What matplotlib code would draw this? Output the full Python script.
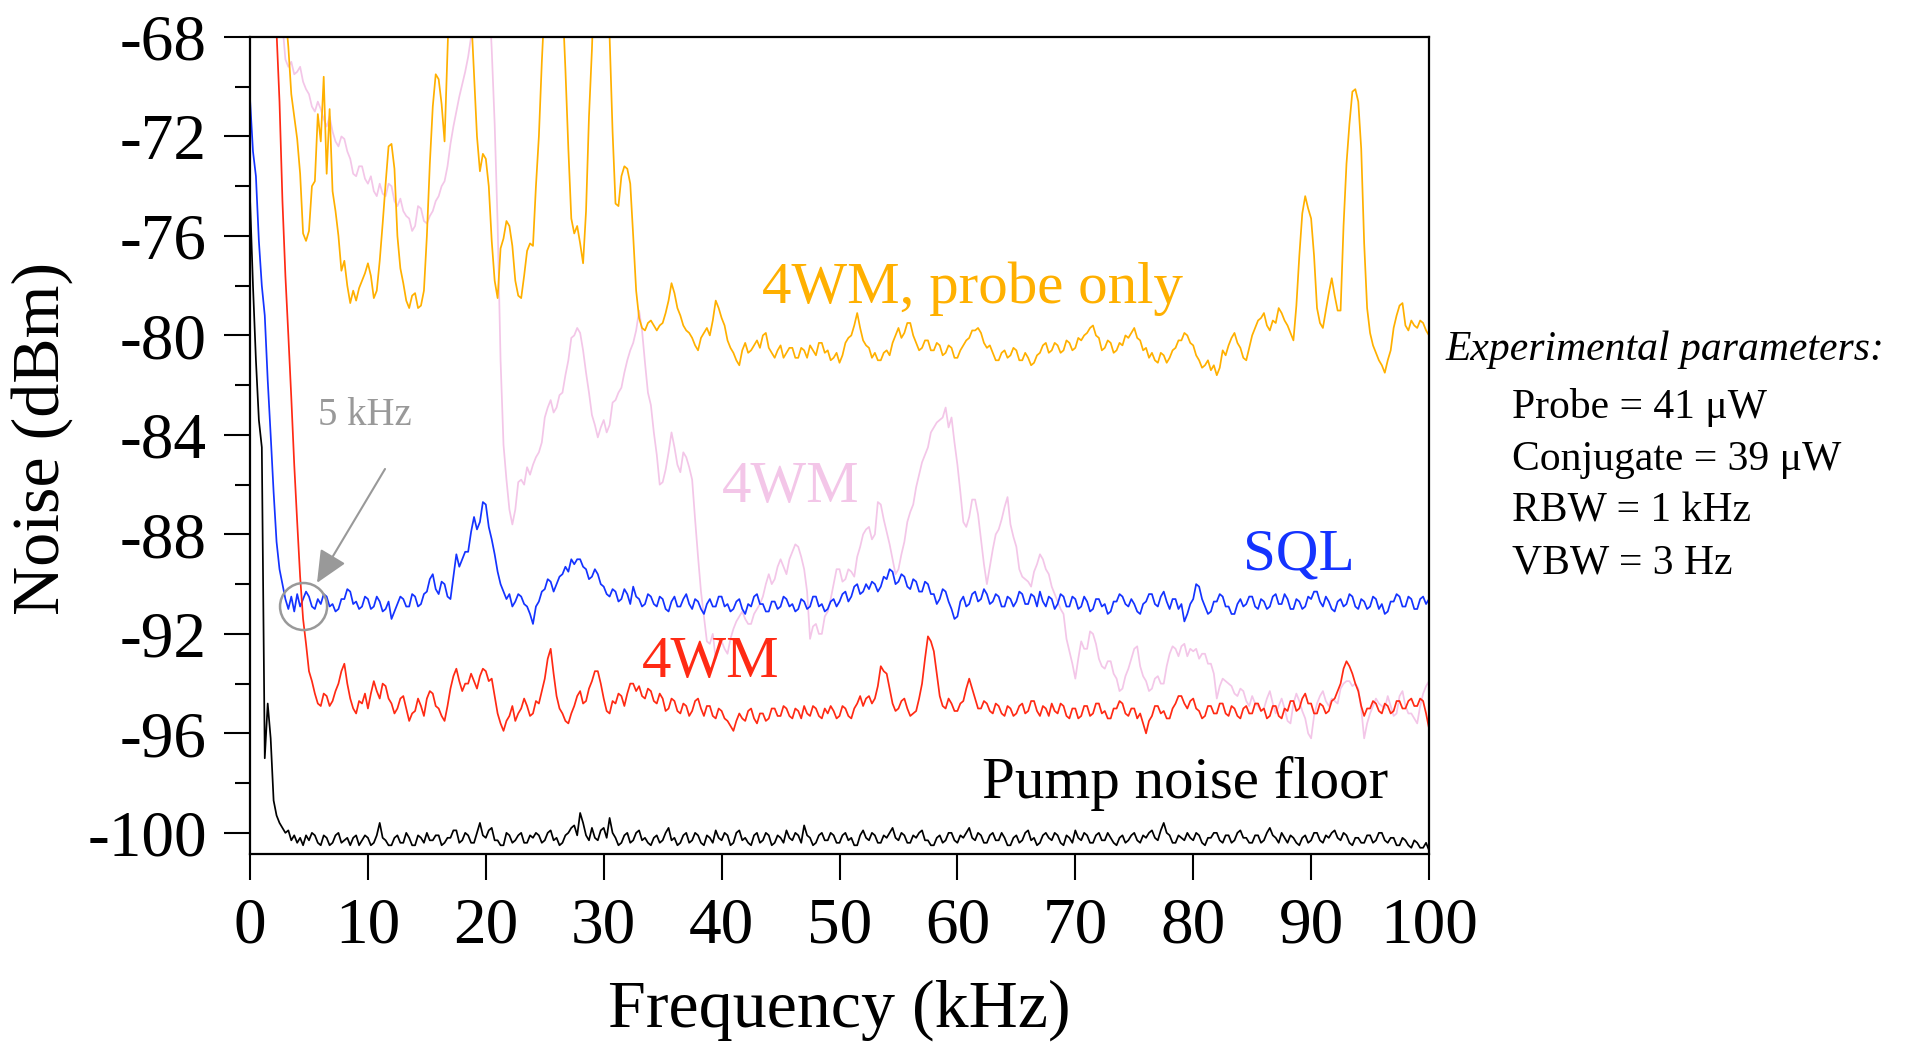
import numpy as np
import matplotlib
matplotlib.use("Agg")
import matplotlib.pyplot as plt
from matplotlib.patches import Ellipse
from matplotlib.ticker import MultipleLocator

plt.rcParams['font.family'] = ['Liberation Serif', 'DejaVu Serif']
plt.rcParams['axes.unicode_minus'] = False

# Frequency grid in kHz (0.25 kHz steps)
f_head = np.arange(0, 5, 0.25)
f_body = np.arange(5, 100.001, 0.25)
freq = np.concatenate([f_head, f_body])

# Noise spectra in dBm (values above -68 lie off the top of the plot)
pump_head = [-74.5, -78.0, -81.0, -83.4, -84.5, -97.0, -94.8, -96.2, -98.7, -99.3,
             -99.6, -99.8, -100.0, -99.9, -100.3, -100.1, -100.4, -100.2, -100.5, -100.1]
pump_body = [
    -100.3, -100.0, -100.1, -100.4, -100.5, -100.1, -100.2, -100.5, -100.4, -100.1, -100.0, -100.4, -100.3, -100.2, -100.5, -100.2, -100.1, -100.5, -100.3, -100.1,
    -100.2, -100.5, -100.4, -100.1, -99.6, -100.2, -100.3, -100.5, -100.5, -100.2, -100.1, -100.4, -100.4, -100.0, -100.2, -100.5, -100.5, -100.1, -100.2, -100.4,
    -100.0, -100.3, -100.3, -100.1, -100.1, -100.5, -100.4, -100.2, -100.2, -99.9, -99.9, -100.4, -100.3, -100.0, -100.1, -100.4, -100.4, -100.0, -99.6, -100.1,
    -100.2, -99.9, -99.8, -100.3, -100.3, -100.5, -100.5, -100.0, -100.1, -100.4, -100.3, -100.1, -100.0, -100.4, -100.4, -100.1, -100.2, -100.0, -100.1, -100.4,
    -100.3, -100.0, -99.9, -100.3, -100.2, -100.5, -100.4, -100.1, -100.0, -99.8, -99.7, -100.1, -99.2, -99.6, -100.1, -100.3, -99.8, -100.2, -100.3, -99.9,
    -99.8, -100.2, -99.4, -100.0, -100.2, -100.5, -100.4, -100.1, -100.0, -100.4, -100.3, -100.0, -99.9, -100.3, -100.2, -100.4, -100.5, -100.2, -100.1, -100.4,
    -100.3, -100.0, -99.8, -100.3, -100.2, -100.5, -100.4, -100.1, -100.0, -100.4, -100.3, -100.0, -100.1, -100.4, -100.5, -100.1, -100.2, -100.4, -99.9, -100.2,
    -100.3, -100.0, -100.1, -100.5, -100.4, -100.0, -99.9, -100.3, -100.2, -100.4, -100.5, -100.1, -100.0, -100.4, -100.3, -100.0, -100.1, -100.5, -100.4, -100.1,
    -100.2, -100.4, -99.9, -100.2, -100.3, -100.0, -100.1, -100.4, -99.7, -100.1, -100.2, -100.5, -100.4, -100.1, -100.0, -100.3, -100.3, -100.0, -100.1, -100.4,
    -100.4, -100.1, -100.0, -100.3, -100.2, -100.5, -100.5, -100.1, -99.9, -100.2, -100.3, -100.0, -100.1, -100.4, -100.4, -100.1, -100.2, -100.0, -99.8, -100.2,
    -100.3, -100.0, -100.1, -100.4, -100.4, -100.1, -100.2, -100.0, -99.9, -100.3, -100.3, -100.5, -100.5, -100.2, -100.1, -100.4, -100.3, -100.0, -100.0, -100.3,
    -100.4, -100.1, -100.2, -100.0, -99.8, -100.2, -100.3, -100.0, -100.1, -100.4, -100.4, -100.1, -100.0, -100.3, -100.3, -100.0, -100.2, -100.5, -100.5, -100.2,
    -100.1, -100.4, -100.3, -100.0, -99.9, -100.3, -100.2, -100.5, -100.4, -100.1, -100.0, -100.2, -100.3, -100.0, -100.1, -100.4, -100.5, -100.1, -100.2, -100.4,
    -99.9, -100.2, -100.3, -100.0, -100.1, -100.4, -100.4, -100.1, -100.0, -100.3, -100.3, -100.0, -100.2, -100.4, -100.5, -100.2, -100.1, -100.4, -100.3, -100.1,
    -100.0, -100.3, -100.4, -100.1, -100.2, -100.0, -99.9, -100.2, -100.3, -99.9, -99.6, -100.0, -100.1, -100.4, -100.4, -100.1, -100.2, -100.3, -100.0, -100.2,
    -100.3, -100.0, -100.1, -100.4, -100.5, -100.2, -100.2, -100.0, -100.0, -100.3, -100.4, -100.1, -100.1, -100.4, -100.3, -100.0, -99.9, -100.2, -100.2, -100.4,
    -100.4, -100.1, -100.1, -100.4, -100.3, -100.0, -99.8, -100.1, -100.2, -100.4, -100.0, -100.2, -100.4, -100.1, -100.2, -100.4, -100.5, -100.2, -100.1, -100.4,
    -100.3, -100.0, -100.0, -100.3, -100.4, -100.1, -100.2, -100.0, -99.9, -100.2, -100.3, -100.0, -100.1, -100.4, -100.5, -100.2, -100.2, -100.4, -100.4, -100.1,
    -100.1, -100.4, -100.3, -100.0, -100.0, -100.3, -100.4, -100.2, -100.2, -100.5, -100.5, -100.2, -100.3, -100.5, -100.6, -100.3, -100.4, -100.6, -100.6, -100.4,
    -100.7]

sql_head = [-70.5, -72.6, -73.6, -76.2, -78.0, -79.2, -81.8, -84.0, -86.3, -88.3,
            -89.4, -90.0, -90.6, -91.0, -90.5, -91.1, -90.4, -90.9, -90.6, -90.3]
sql_body = [
    -90.5, -90.9, -91.0, -90.6, -90.8, -90.4, -90.5, -90.9, -90.8, -91.1, -91.0, -90.6, -90.6, -90.2, -90.3, -90.8, -90.7, -91.0, -90.9, -90.5,
    -90.6, -91.0, -90.9, -90.5, -90.7, -91.1, -91.0, -90.7, -91.4, -91.1, -90.8, -90.5, -90.6, -90.9, -90.9, -90.4, -90.5, -90.9, -90.8, -90.4,
    -90.3, -89.8, -89.6, -90.2, -90.4, -89.9, -90.0, -90.5, -90.6, -89.7, -88.8, -89.3, -89.0, -88.7, -88.7, -87.9, -87.3, -87.8, -87.5, -86.7,
    -86.8, -87.7, -88.2, -88.8, -89.5, -90.0, -90.3, -90.6, -90.4, -90.9, -90.7, -90.4, -90.5, -90.8, -90.9, -91.2, -91.6, -90.9, -90.7, -90.3,
    -90.2, -89.8, -89.9, -90.3, -90.0, -89.7, -89.6, -89.3, -89.5, -89.0, -89.2, -89.0, -89.0, -89.3, -89.4, -89.8, -89.7, -89.4, -89.6, -90.0,
    -90.1, -90.4, -90.5, -90.2, -90.3, -90.7, -90.6, -90.2, -90.4, -90.8, -90.1, -90.5, -90.6, -90.9, -90.8, -90.4, -90.5, -90.8, -90.9, -90.5,
    -90.6, -91.0, -91.1, -90.7, -90.5, -90.9, -90.9, -90.6, -90.4, -90.8, -91.0, -90.6, -90.7, -91.0, -91.2, -90.8, -90.6, -90.9, -90.9, -90.5,
    -90.5, -90.9, -90.8, -91.1, -91.0, -90.7, -90.6, -91.0, -91.2, -90.8, -90.9, -90.5, -90.4, -90.8, -90.8, -91.1, -91.1, -90.7, -90.7, -91.0,
    -90.9, -90.5, -90.6, -90.9, -90.8, -91.1, -91.0, -90.6, -90.7, -91.0, -90.9, -90.5, -90.5, -90.9, -90.8, -91.1, -91.0, -90.7, -90.6, -90.9,
    -90.7, -90.4, -90.3, -90.7, -90.5, -90.1, -90.0, -90.4, -90.3, -90.0, -90.2, -89.9, -90.0, -90.3, -90.1, -89.7, -89.8, -89.4, -89.5, -90.0,
    -89.9, -89.6, -89.7, -90.1, -90.2, -89.8, -89.9, -90.3, -90.3, -89.9, -90.0, -90.4, -90.4, -90.8, -90.6, -90.2, -90.3, -90.7, -91.0, -91.4,
    -91.3, -90.7, -90.5, -90.9, -90.8, -90.4, -90.3, -90.7, -90.6, -90.2, -90.4, -90.8, -90.7, -90.4, -90.5, -90.9, -90.9, -90.5, -90.6, -90.9,
    -90.7, -90.3, -90.4, -90.8, -90.8, -90.4, -90.5, -90.9, -90.3, -90.7, -90.9, -90.5, -90.6, -91.0, -90.8, -90.4, -90.5, -90.9, -90.9, -90.5,
    -90.6, -91.0, -90.9, -90.5, -90.7, -91.1, -91.0, -90.6, -90.6, -90.9, -90.8, -91.2, -91.1, -90.7, -90.7, -90.4, -90.5, -90.8, -90.9, -90.6,
    -90.8, -91.1, -91.2, -90.8, -90.7, -90.4, -90.4, -90.8, -90.9, -90.5, -90.3, -90.7, -91.0, -90.6, -90.6, -91.0, -90.8, -91.5, -91.2, -90.8,
    -90.6, -90.0, -90.1, -90.6, -90.9, -91.2, -91.1, -90.7, -90.7, -90.4, -90.5, -90.9, -90.9, -91.2, -91.2, -90.8, -90.6, -90.9, -90.8, -90.5,
    -90.5, -90.9, -91.0, -90.6, -90.7, -91.0, -90.9, -90.5, -90.4, -90.8, -90.8, -90.4, -90.6, -91.0, -91.0, -90.6, -90.7, -91.0, -90.9, -90.5,
    -90.6, -90.3, -90.3, -90.7, -90.9, -90.5, -90.7, -91.0, -91.1, -90.7, -90.6, -90.9, -90.8, -90.4, -90.5, -90.9, -91.0, -90.6, -90.7, -91.0,
    -90.9, -90.5, -90.6, -91.0, -90.8, -91.2, -91.1, -90.7, -90.7, -90.4, -90.5, -90.9, -90.9, -90.5, -90.6, -91.0, -91.0, -90.6, -90.5, -90.8,
    -90.6]

fwm_head = [-62.0, -62.5, -63.0, -63.5, -64.0, -64.6, -65.2, -66.0, -66.8, -67.8,
            -70.6, -74.6, -77.6, -80.0, -82.5, -85.2, -87.5, -89.7, -91.4, -92.4]
fwm_body = [
    -93.5, -93.9, -94.4, -94.8, -94.9, -94.4, -94.5, -94.9, -94.7, -94.3, -94.0, -93.5, -93.2, -94.0, -94.6, -95.0, -95.2, -94.7, -94.8, -94.4,
    -95.0, -94.4, -93.9, -94.3, -94.6, -94.0, -94.1, -94.6, -94.8, -95.2, -95.0, -94.6, -94.5, -95.0, -95.5, -95.2, -95.1, -94.6, -94.9, -95.3,
    -94.6, -94.3, -94.4, -94.9, -95.0, -95.3, -95.5, -94.9, -94.2, -93.7, -93.4, -93.9, -94.3, -94.0, -94.0, -93.6, -93.9, -94.2, -93.7, -93.4,
    -93.5, -93.9, -93.8, -94.5, -95.2, -95.6, -95.9, -95.5, -95.3, -94.9, -95.5, -95.2, -95.0, -94.6, -94.9, -95.3, -95.2, -94.7, -94.8, -94.3,
    -93.8, -93.0, -92.6, -93.6, -94.5, -95.0, -95.2, -95.5, -95.6, -95.2, -94.9, -94.5, -94.3, -94.8, -94.7, -94.2, -93.9, -93.5, -93.5, -94.0,
    -94.6, -95.1, -95.2, -94.7, -94.8, -94.4, -94.5, -94.9, -94.4, -94.0, -94.0, -94.3, -94.1, -94.5, -94.6, -94.2, -94.3, -94.7, -94.8, -94.4,
    -94.6, -95.1, -95.0, -94.6, -94.7, -95.1, -95.2, -94.8, -94.9, -95.3, -95.1, -94.7, -94.6, -95.0, -95.3, -94.9, -94.9, -95.3, -95.4, -95.0,
    -95.1, -95.4, -95.5, -95.7, -95.9, -95.5, -95.2, -95.4, -95.5, -95.1, -95.0, -95.4, -95.6, -95.2, -95.2, -95.5, -95.4, -95.0, -95.0, -95.3,
    -95.3, -94.9, -95.0, -95.3, -95.4, -95.0, -95.1, -95.4, -94.9, -95.2, -95.3, -94.9, -95.0, -95.3, -95.4, -95.0, -95.2, -94.9, -95.1, -95.4,
    -95.3, -94.9, -95.0, -95.3, -95.4, -95.0, -94.8, -94.5, -94.9, -94.6, -94.5, -94.8, -94.6, -94.1, -93.3, -93.5, -93.6, -94.2, -94.8, -95.1,
    -95.0, -94.7, -94.6, -95.0, -95.3, -95.2, -95.1, -94.6, -94.0, -93.0, -92.1, -92.3, -92.7, -93.6, -94.5, -94.9, -95.0, -94.6, -94.8, -95.1,
    -95.1, -94.8, -94.7, -94.2, -93.8, -94.2, -94.6, -95.0, -95.0, -94.7, -94.8, -95.1, -95.2, -94.8, -94.9, -95.2, -95.3, -94.9, -95.0, -95.3,
    -95.2, -94.9, -94.8, -95.2, -95.1, -94.7, -94.7, -95.1, -95.3, -94.9, -95.0, -95.3, -94.8, -95.1, -95.2, -94.8, -94.9, -95.3, -95.4, -95.0,
    -95.0, -95.4, -95.3, -94.9, -94.9, -95.3, -95.2, -94.8, -94.8, -95.2, -95.1, -95.4, -95.4, -95.0, -95.0, -94.7, -94.8, -95.2, -95.3, -95.0,
    -95.0, -95.4, -95.2, -95.6, -96.0, -95.5, -95.3, -94.9, -94.9, -95.2, -95.1, -95.4, -95.4, -95.0, -94.8, -94.5, -94.5, -94.8, -95.0, -94.7,
    -94.6, -95.0, -95.1, -95.4, -95.3, -94.9, -94.9, -95.2, -95.2, -94.8, -94.8, -95.2, -95.3, -94.9, -95.0, -95.3, -95.4, -95.0, -94.9, -95.2,
    -95.2, -94.8, -94.8, -95.1, -95.0, -95.4, -95.3, -94.9, -94.9, -95.3, -95.4, -95.0, -95.1, -94.7, -94.7, -95.1, -95.0, -94.6, -94.4, -94.8,
    -94.8, -95.2, -95.2, -94.8, -94.9, -95.2, -95.1, -94.7, -94.6, -94.3, -94.0, -93.4, -93.1, -93.3, -93.6, -94.0, -94.3, -94.9, -95.3, -95.0,
    -95.0, -94.7, -94.8, -95.1, -95.2, -94.8, -94.9, -95.2, -95.1, -94.7, -94.7, -95.0, -95.0, -94.7, -94.6, -94.9, -94.9, -94.6, -94.7, -95.2,
    -95.8]

probe_only_head = [-64.0, -64.0, -64.0, -64.0, -64.0, -64.0, -64.0, -64.0, -64.0, -64.0,
                   -64.0, -64.0, -67.0, -68.4, -70.3, -71.2, -72.1, -73.5, -75.9, -76.2]
probe_only_body = [
    -75.8, -74.0, -73.8, -71.1, -72.2, -69.6, -73.5, -70.9, -74.2, -75.0, -76.0, -77.4, -77.0, -78.0, -78.7, -78.2, -78.6, -78.1, -77.8, -77.5,
    -77.1, -77.6, -78.5, -78.2, -77.0, -75.5, -73.9, -72.4, -72.3, -73.3, -76.0, -77.3, -77.9, -78.6, -78.9, -78.4, -78.3, -78.9, -78.8, -78.2,
    -76.0, -73.1, -70.8, -69.5, -69.7, -70.7, -72.2, -68.5, -65.0, -64.0, -64.0, -64.0, -64.0, -64.0, -64.0, -67.0, -69.5, -72.0, -73.4, -72.7,
    -72.9, -74.0, -76.2, -77.8, -78.5, -76.5, -76.1, -75.4, -75.6, -76.4, -77.8, -78.4, -78.5, -77.6, -76.6, -76.3, -76.4, -74.0, -72.0, -69.0,
    -66.5, -64.0, -64.0, -64.0, -64.0, -64.0, -66.5, -69.3, -72.5, -75.3, -75.9, -75.6, -76.3, -77.1, -75.0, -71.2, -68.5, -65.0, -64.0, -64.0,
    -64.0, -65.0, -68.0, -71.8, -74.7, -74.8, -73.6, -73.2, -73.3, -73.9, -76.0, -78.2, -79.3, -79.7, -79.8, -79.5, -79.4, -79.6, -79.8, -79.6,
    -79.5, -79.1, -78.6, -77.9, -78.3, -78.9, -79.2, -79.6, -79.8, -79.9, -80.1, -80.4, -80.6, -80.1, -79.9, -79.7, -80.0, -79.4, -78.6, -78.9,
    -79.3, -79.6, -80.2, -80.5, -80.7, -81.0, -81.2, -80.6, -80.3, -80.7, -80.6, -80.4, -80.2, -80.5, -80.0, -79.9, -80.5, -80.7, -80.9, -80.6,
    -80.4, -80.9, -80.7, -80.5, -80.5, -80.9, -80.9, -80.5, -80.6, -80.9, -80.4, -80.6, -80.8, -80.3, -80.3, -80.7, -80.6, -81.0, -80.9, -80.7,
    -81.1, -80.8, -80.3, -80.1, -80.0, -79.6, -79.1, -79.7, -80.2, -80.4, -80.5, -80.9, -80.7, -81.0, -81.0, -80.7, -80.6, -80.8, -80.3, -80.0,
    -79.7, -80.1, -79.9, -79.5, -79.5, -80.0, -80.3, -80.6, -80.5, -80.2, -80.2, -80.6, -80.6, -80.3, -80.4, -80.8, -80.7, -80.4, -80.5, -80.9,
    -80.9, -80.6, -80.4, -80.2, -80.1, -79.8, -79.8, -79.7, -79.9, -80.3, -80.5, -80.4, -80.7, -81.0, -81.0, -80.7, -80.6, -80.9, -80.8, -80.5,
    -80.6, -81.0, -81.0, -80.7, -80.9, -81.2, -81.1, -80.8, -80.7, -80.4, -80.3, -80.7, -80.6, -80.3, -80.4, -80.7, -80.6, -80.2, -80.3, -80.6,
    -80.5, -80.1, -80.2, -80.0, -79.9, -79.7, -79.6, -80.0, -80.1, -80.6, -80.5, -80.2, -80.3, -80.7, -80.6, -80.3, -80.4, -80.0, -80.1, -79.9,
    -79.7, -80.1, -80.2, -80.6, -80.5, -80.9, -80.7, -81.0, -81.1, -80.7, -80.8, -81.1, -80.9, -80.6, -80.5, -80.2, -80.2, -79.9, -80.0, -80.3,
    -80.4, -80.8, -81.0, -81.3, -81.2, -81.0, -81.4, -81.2, -81.6, -81.3, -80.6, -80.8, -80.4, -80.1, -79.9, -80.3, -80.5, -80.9, -81.0, -80.5,
    -80.0, -79.7, -79.4, -79.3, -79.1, -79.6, -79.8, -79.4, -79.5, -78.9, -79.1, -79.4, -79.6, -79.9, -80.2, -78.8, -76.8, -75.1, -74.4, -74.9,
    -75.3, -76.8, -78.9, -79.5, -79.7, -79.0, -78.3, -77.7, -78.4, -79.0, -79.0, -75.6, -73.1, -71.5, -70.2, -70.1, -70.6, -72.5, -76.3, -78.9,
    -79.9, -80.4, -80.7, -81.0, -81.2, -81.5, -81.0, -80.6, -79.7, -79.2, -78.8, -78.7, -79.6, -79.8, -79.4, -79.6, -79.7, -79.4, -79.5, -79.8,
    -80.0]

fwm_alt_head = [-64.0, -64.0, -64.0, -64.0, -64.0, -64.0, -64.0, -64.0, -64.0, -64.0,
                -64.0, -67.5, -68.9, -69.2, -69.0, -69.5, -69.4, -69.2, -69.8, -70.1]
fwm_alt_body = [
    -70.3, -70.8, -71.0, -70.6, -70.9, -71.3, -71.6, -71.2, -71.8, -72.2, -72.4, -72.0, -72.1, -72.6, -72.9, -73.5, -73.6, -73.2, -73.2, -73.7,
    -73.9, -73.6, -74.2, -74.4, -73.9, -74.3, -74.4, -73.9, -74.0, -74.6, -74.8, -74.5, -75.0, -75.2, -75.3, -75.8, -75.6, -74.8, -74.9, -75.4,
    -75.5, -75.2, -75.0, -74.6, -74.4, -74.0, -73.8, -73.2, -72.3, -71.6, -71.0, -70.4, -69.9, -69.4, -68.8, -68.0, -66.5, -65.5, -65.0, -65.0,
    -65.0, -66.0, -68.5, -71.5, -75.5, -81.0, -84.4, -85.8, -87.0, -87.6, -87.0, -85.9, -85.8, -86.0, -85.3, -85.6, -85.2, -84.9, -84.7, -84.3,
    -83.3, -82.9, -82.6, -83.1, -82.9, -82.4, -82.3, -81.6, -81.0, -80.1, -80.0, -79.7, -79.9, -80.6, -81.5, -82.3, -83.2, -83.6, -84.1, -83.7,
    -83.4, -83.9, -83.6, -82.7, -82.6, -82.3, -82.1, -81.5, -81.0, -80.6, -80.3, -79.8, -79.0, -79.8, -81.1, -82.3, -82.8, -83.9, -84.8, -86.0,
    -85.9, -85.4, -84.7, -83.9, -84.5, -85.2, -85.5, -84.7, -84.9, -85.3, -85.8, -87.4, -88.9, -90.3, -91.3, -92.3, -92.4, -92.0, -93.0, -92.6,
    -92.3, -92.6, -92.8, -92.2, -91.8, -91.5, -91.3, -91.1, -91.4, -91.6, -91.6, -91.2, -91.0, -90.8, -90.5, -90.0, -89.6, -90.0, -89.8, -89.3,
    -89.0, -89.3, -89.6, -89.0, -88.7, -88.4, -88.5, -88.9, -89.4, -90.3, -92.2, -91.7, -91.6, -92.0, -92.0, -91.3, -91.1, -90.6, -90.0, -89.4,
    -89.4, -89.9, -89.8, -89.4, -89.5, -89.7, -88.9, -88.5, -88.0, -87.8, -87.7, -88.2, -88.0, -86.7, -86.8, -87.4, -87.9, -88.4, -89.0, -89.6,
    -89.4, -88.8, -88.3, -87.5, -87.1, -86.8, -86.1, -85.6, -85.1, -84.8, -84.5, -83.9, -83.7, -83.5, -83.4, -83.3, -82.9, -83.7, -83.3, -84.3,
    -85.2, -86.3, -87.5, -87.7, -87.3, -86.6, -86.6, -87.2, -88.2, -89.2, -90.0, -89.3, -88.6, -88.0, -87.8, -87.4, -86.9, -86.5, -87.6, -88.1,
    -88.5, -89.4, -89.7, -89.8, -89.9, -90.1, -89.5, -89.2, -88.8, -89.0, -89.4, -89.6, -90.1, -90.4, -90.7, -91.0, -91.2, -92.2, -92.7, -93.2,
    -93.8, -93.0, -92.3, -92.6, -92.6, -91.9, -92.0, -92.4, -93.0, -93.3, -93.4, -93.1, -93.1, -93.6, -93.8, -94.3, -94.2, -93.7, -93.4, -93.0,
    -92.6, -92.5, -93.3, -93.7, -93.9, -94.3, -94.2, -93.8, -93.7, -94.0, -94.0, -93.3, -92.8, -92.5, -92.6, -92.9, -92.5, -92.4, -92.9, -92.6,
    -92.7, -92.6, -93.0, -92.8, -92.8, -93.2, -93.2, -93.6, -94.6, -94.1, -93.8, -93.9, -94.0, -94.1, -94.4, -94.5, -94.2, -94.3, -94.7, -94.9,
    -94.5, -94.8, -94.9, -95.1, -95.0, -94.6, -94.3, -94.8, -95.2, -94.9, -94.6, -95.0, -95.5, -95.6, -94.8, -94.4, -94.7, -95.1, -95.4, -96.0,
    -96.2, -95.3, -94.8, -94.5, -94.3, -94.7, -94.9, -94.6, -94.7, -94.8, -94.2, -94.0, -93.9, -93.9, -94.1, -94.0, -94.2, -95.0, -96.2, -95.6,
    -95.2, -94.9, -94.6, -94.8, -94.9, -95.0, -94.5, -94.9, -95.3, -95.2, -94.5, -94.3, -94.9, -95.2, -95.2, -95.4, -95.6, -94.9, -94.4, -94.1,
    -93.9]

y_ticks = [-100, -96, -92, -88, -84, -80, -76, -72, -68]
x_ticks = [0, 10, 20, 30, 40, 50, 60, 70, 80, 90, 100]

C_ORANGE = '#ffb000'
C_PINK = '#f3c6e8'
C_BLUE = '#1433ff'
C_RED = '#ff2a14'
C_GRAY = '#999999'

series = [
    (fwm_alt_head + fwm_alt_body, C_PINK),
    (probe_only_head + probe_only_body, C_ORANGE),
    (sql_head + sql_body, C_BLUE),
    (fwm_head + fwm_body, C_RED),
    (pump_head + pump_body, 'black'),
]

fig = plt.figure(figsize=(19.13, 10.44), dpi=100)
ax = fig.add_axes([0.1307, 0.182, 0.6163, 0.7826])

for vals, col in series:
    assert len(vals) == len(freq), len(vals)
    ax.plot(freq, vals, color=col, lw=1.25)

ax.set_xlim(0, 100)
ax.set_ylim(-100.85, -68)
ax.set_xticks(x_ticks)
ax.set_yticks(y_ticks)
ax.set_xticklabels([str(t) for t in x_ticks])
ax.set_yticklabels([str(t) for t in y_ticks])
ax.yaxis.set_minor_locator(MultipleLocator(2))
ax.tick_params(axis='both', which='major', direction='out', length=19, width=1.5,
               labelsize=47, pad=12)
ax.tick_params(axis='y', which='minor', direction='out', length=11, width=1.5)
for sp in ax.spines.values():
    sp.set_linewidth(1.6)

ax.set_xlabel('Frequency (kHz)', fontsize=49, va='baseline')
ax.xaxis.set_label_coords(0.5, -0.2118)
ax.set_ylabel('Noise (dBm)', fontsize=49, va='center')
ax.yaxis.set_label_coords(-0.1764, 0.509)

# trace labels
lab_fs = 42.5
ax.text(43.4, -78.7, '4WM, probe only', color=C_ORANGE, fontsize=lab_fs, ha='left', va='baseline')
ax.text(40.0, -86.7, '4WM', color=C_PINK, fontsize=lab_fs, ha='left', va='baseline')
ax.text(84.2, -89.43, 'SQL', color=C_BLUE, fontsize=lab_fs, ha='left', va='baseline')
ax.text(33.2, -93.73, '4WM', color=C_RED, fontsize=lab_fs, ha='left', va='baseline')
ax.text(62.1, -98.6, 'Pump noise floor', color='black', fontsize=lab_fs, ha='left', va='baseline')

# 5 kHz marker
ax.add_patch(Ellipse((4.54, -90.9), width=3.99, height=1.89, fill=False,
                     ec=C_GRAY, lw=1.8, zorder=5))
ax.annotate('', xy=(5.68, -89.95), xytext=(11.45, -85.37),
            arrowprops=dict(arrowstyle='-|>,head_length=1.1,head_width=0.5',
                            color=C_GRAY, lw=1.5, shrinkA=0, shrinkB=0,
                            mutation_scale=18))
ax.text(5.8, -83.6, '5 kHz', color=C_GRAY, fontsize=28, ha='left', va='baseline')

# experimental parameters
fig.text(0.7554, 0.6552, 'Experimental parameters:', fontsize=30, style='italic',
         ha='left', va='baseline')
params = ['Probe = 41 \u03bcW', 'Conjugate = 39 \u03bcW', 'RBW = 1 kHz', 'VBW = 3 Hz']
for i, s in enumerate(params):
    fig.text(0.7904, 0.5996 - i * 0.0495, s, fontsize=30, ha='left', va='baseline')

fig.savefig('out.png', dpi=100)
